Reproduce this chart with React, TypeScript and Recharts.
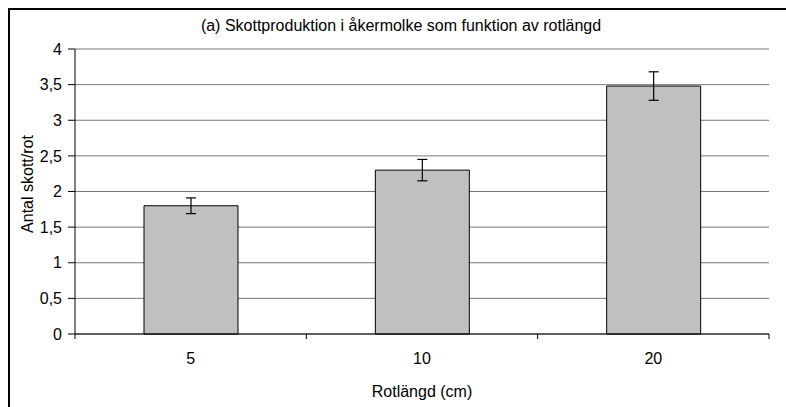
import { BarChart, Bar, XAxis, YAxis, CartesianGrid, ErrorBar } from 'recharts'

const lengths = ['5', '10', '20']
const shoots = [1.8, 2.3, 3.48]
const shootErr = [0.11, 0.15, 0.2]
const yTicks = [0, 0.5, 1, 1.5, 2, 2.5, 3, 3.5, 4]

const data = lengths.map((l, i) => ({ length: l, shoots: shoots[i], err: shootErr[i] }))

const FONT = '"Liberation Sans", Arial, sans-serif'
const FS = 16
const fmt = (v: number) => String(v).replace('.', ',')

function XTick(props: any) {
  const { x, y, payload, index, width, visibleTicksCount } = props
  const half = width / visibleTicksCount / 2
  return (
    <g>
      <line x1={x - half} y1={y} x2={x - half} y2={y + 5} stroke="#000" />
      {index === visibleTicksCount - 1 && (
        <line x1={x + half} y1={y} x2={x + half} y2={y + 5} stroke="#000" />
      )}
      <text x={x} y={y + 30} textAnchor="middle" fontSize={FS} fontFamily={FONT} fill="#000">
        {payload.value}
      </text>
    </g>
  )
}

export default function App() {
  return (
    <div style={{ position: 'fixed', left: 0, top: 0, width: 786, height: 407, overflow: 'hidden', background: '#fff' }}>
      <div
        style={{
          position: 'absolute', left: 8, top: 8, width: 800, height: 420,
          borderTop: '2px solid #000', borderLeft: '2px solid #000',
        }}
      />
      <div
        style={{
          position: 'absolute', left: 0, width: 802, top: 17, textAlign: 'center',
          fontFamily: FONT, fontSize: FS, color: '#000',
        }}
      >
        (a) Skottproduktion i åkermolke som funktion av rotlängd
      </div>
      <BarChart
        width={786}
        height={407}
        data={data}
        margin={{ top: 49, right: 17, bottom: 0, left: 0 }}
        style={{ position: 'absolute', left: 0, top: 0 }}
      >
        <CartesianGrid yAxisId="left" vertical={false} stroke="#777" />
        <XAxis
          dataKey="length"
          height={73}
          tickLine={false}
          tickSize={0}
          tickMargin={0}
          stroke="#000"
          tick={<XTick />}
          label={(p: any) => (
            <text x={p.viewBox.x + p.viewBox.width / 2} y={397} textAnchor="middle" fontSize={FS} fontFamily={FONT} fill="#000">
              Rotlängd (cm)
            </text>
          )}
        />
        <YAxis
          yAxisId="left"
          width={75}
          domain={[0, 4]}
          ticks={yTicks}
          tickFormatter={fmt}
          tickSize={7}
          tickMargin={6}
          stroke="#000"
          tick={{ fill: '#000', fontSize: FS, fontFamily: FONT }}
          label={() => (
            <text x={33} y={184} transform="rotate(-90 33 184)" textAnchor="middle" fontSize={FS} fontFamily={FONT} fill="#000">
              Antal skott/rot
            </text>
          )}
        />
        <YAxis yAxisId="right" orientation="right" width={0} domain={[0, 4]} tick={false} tickLine={false} stroke="#808080" />
        <Bar yAxisId="left" dataKey="shoots" fill="#c0c0c0" stroke="#000" barSize={94} isAnimationActive={false}>
          <ErrorBar dataKey="err" width={5} stroke="#000" strokeWidth={1.2} />
        </Bar>
      </BarChart>
    </div>
  )
}
